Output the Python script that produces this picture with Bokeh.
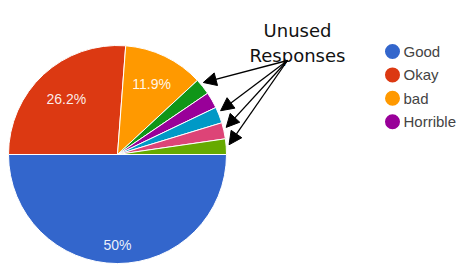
import numpy as np
from bokeh.plotting import figure
from bokeh.models import Range1d, Arrow, NormalHead, ColumnDataSource
from bokeh.core.properties import value
from bokeh.embed import file_html
from bokeh.resources import INLINE

# ---- data ----
slice_values = [50.0, 26.2, 11.9, 2.4, 2.4, 2.4, 2.4, 2.3]
slice_colors = ["#3366cc", "#dc3912", "#ff9900", "#109618",
                "#990099", "#0099c6", "#dd4477", "#66aa00"]
pct_labels = ["50%", "26.2%", "11.9%"]
legend_labels = ["Good", "Okay", "bad", "Horrible"]
legend_colors = ["#3366cc", "#dc3912", "#ff9900", "#990099"]
annotation_lines = ["Unused", "Responses"]

# ---- layout / style ----
W, H = 458, 265
cx, cy, r = 117, H - 154, 109
label_r = [0.83, 0.69, 0.72]
arrow_angles_deg = [40, 23, 14, 5]

p = figure(width=W, height=H, x_range=Range1d(0, W), y_range=Range1d(0, H),
           output_backend="svg", toolbar_location=None,
           x_axis_location=None, y_axis_location=None, min_border=0)
p.grid.visible = False
p.outline_line_color = None
p.background_fill_color = "white"
p.border_fill_color = "white"

vals = np.array(slice_values)
frac = vals / vals.sum()
ends = np.cumsum(frac) * 2 * np.pi
starts = ends - frac * 2 * np.pi

src = ColumnDataSource(dict(start=-ends, end=-starts, color=slice_colors))
p.wedge(x=cx, y=cy, radius=r, start_angle="start", end_angle="end",
        fill_color="color", line_color="white", line_width=1, source=src)

mid = -(starts + ends) / 2
n = len(pct_labels)
lx = [cx + r * label_r[i] * np.cos(mid[i]) for i in range(n)]
ly = [cy + r * label_r[i] * np.sin(mid[i]) for i in range(n)]
p.text(x=lx, y=ly, text=pct_labels, text_align="center", text_baseline="middle",
       text_font=value("Liberation Sans"), text_font_size="14px",
       text_color="white", text_alpha=0.92)

# legend
k = np.arange(len(legend_labels))
leg_y = H - (51 + 23.4 * k)
p.scatter(x=[392] * len(k), y=leg_y, size=15, fill_color=legend_colors,
          line_color=None)
p.text(x=[403] * len(k), y=leg_y, text=legend_labels, text_align="left",
       text_baseline="middle", text_font=value("Liberation Sans"),
       text_font_size="15px", text_color="#444444")

# annotation text
p.text(x=[297, 297], y=[H - 30, H - 55], text=annotation_lines, text_align="center",
       text_baseline="alphabetic", text_font=value("DejaVu Sans"),
       text_font_size="18px", text_color="#111111")

# arrows
sx, sy = 287, H - 60
ang = np.radians(arrow_angles_deg)
ex = cx + (r + 3) * np.cos(ang)
ey = cy + (r + 3) * np.sin(ang)
asrc = ColumnDataSource(dict(x0=[sx] * len(ang), y0=[sy] * len(ang), x1=ex, y1=ey))
p.add_layout(Arrow(end=NormalHead(size=13, fill_color="black", line_color="black"),
                   x_start="x0", y_start="y0", x_end="x1", y_end="y1",
                   line_color="black", line_width=1.3, source=asrc))

open("out.html", "w").write(file_html(p, INLINE))
